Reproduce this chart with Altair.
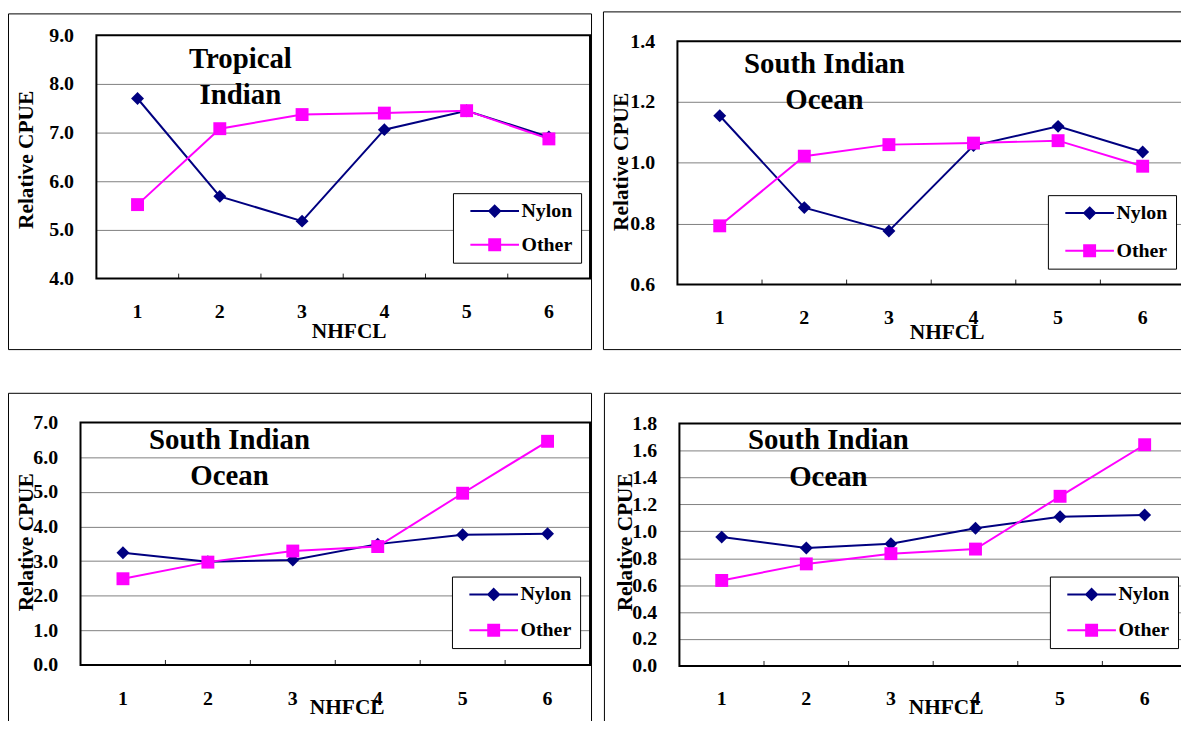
import altair as alt
import pandas as pd

SERIF = "Liberation Serif"
NAVY = "#000080"
MAGENTA = "#FF00FF"

categories = [1, 2, 3, 4, 5, 6]
series_names = ["Nylon", "Other"]
series_colors = [NAVY, MAGENTA]
marker_shapes = ["diamond", "square"]
legend_shapes = ["M-4.45,0H4.45M0,-1L1,0L0,1L-1,0Z", "M-4.45,0H4.45M-1,-1H1V1H-1Z"]

# Panel 1: Tropical Indian
p1_nylon = [7.70, 5.69, 5.18, 7.06, 7.45, 6.91]
p1_other = [5.52, 7.08, 7.37, 7.40, 7.45, 6.87]
p1_yticks = [4.0, 5.0, 6.0, 7.0, 8.0, 9.0]
# Panel 2: South Indian Ocean
p2_nylon = [1.155, 0.853, 0.776, 1.057, 1.120, 1.036]
p2_other = [0.793, 1.022, 1.060, 1.065, 1.073, 0.989]
p2_yticks = [0.6, 0.8, 1.0, 1.2, 1.4]
# Panel 3: South Indian Ocean
p3_nylon = [3.24, 2.98, 3.03, 3.49, 3.76, 3.79]
p3_other = [2.49, 2.97, 3.29, 3.42, 4.96, 6.46]
p3_yticks = [0.0, 1.0, 2.0, 3.0, 4.0, 5.0, 6.0, 7.0]
# Panel 4: South Indian Ocean
p4_nylon = [0.957, 0.876, 0.907, 1.023, 1.108, 1.121]
p4_other = [0.635, 0.758, 0.834, 0.868, 1.260, 1.643]
p4_yticks = [0.0, 0.2, 0.4, 0.6, 0.8, 1.0, 1.2, 1.4, 1.6, 1.8]

one_row = pd.DataFrame({"k": [0]})
legend_df = pd.DataFrame({"series": series_names})
boundary_df = pd.DataFrame({"NHFCL": categories[1:]})


def box(x1, x2, y1, y2, width):
    return alt.Chart(one_row).mark_rect(filled=False, color="black", strokeWidth=width).encode(
        x=alt.value(x1), x2=alt.value(x2), y=alt.value(y1), y2=alt.value(y2))


def make_panel(nylon, other, yticks, W, H, dx, dy, title, tx, ty, lh,
               legx, legy, rowpad, ytx, yty, lab_pad, xtx, xty, border):
    df = pd.DataFrame({
        "NHFCL": categories * 2,
        "value": nylon + other,
        "series": ["Nylon"] * 6 + ["Other"] * 6,
    })
    xscale = alt.Scale(type="band", paddingInner=0, paddingOuter=0, range=[dx, dx + W])
    x_axis = alt.Axis(title="NHFCL", labelAngle=0, domain=False, grid=False,
                      ticks=False, tickSize=0, labelPadding=lab_pad,
                      labelBaseline="alphabetic", titleX=dx + xtx, titleY=xty,
                      titleBaseline="alphabetic")
    x_enc = alt.X("NHFCL:O", scale=xscale, axis=x_axis)
    y_axis = dict(values=yticks, format=".1f", title="Relative CPUE",
                  domain=False, ticks=False, tickSize=0, labelPadding=23,
                  gridColor="#808080", gridWidth=1,
                  gridOpacity={"condition": {"test": "datum.index == 0 || datum.index == 1",
                                             "value": 0}, "value": 1},
                  labelFlush=False, labelOverlap=False,
                  titleX=ytx, titleY=dy + yty, titleBaseline="alphabetic",
                  titleAngle=270)
    if dx:
        y_axis["offset"] = -dx
    y_enc = alt.Y(
        "value:Q",
        scale=alt.Scale(domain=[yticks[0], yticks[-1]], nice=False, zero=False,
                        range=[dy + H, dy]),
        axis=alt.Axis(**y_axis),
    )
    color = alt.Color("series:N",
                      scale=alt.Scale(domain=series_names, range=series_colors),
                      legend=None)
    base = alt.Chart(df)
    outer = box(dx + border[0], dx + border[1], dy + border[2], dy + border[3], 1)
    frame = box(dx, dx + W, dy, dy + H, 2)
    ticks = alt.Chart(boundary_df).mark_rule(color="#222222", strokeWidth=1).encode(
        x=alt.X("NHFCL:O", bandPosition=0, scale=xscale, axis=x_axis),
        y=alt.value(dy + H - 5), y2=alt.value(dy + H))
    lines = base.mark_line(strokeWidth=2).encode(x=x_enc, y=y_enc, color=color)
    points = base.mark_point(filled=True, size=169, opacity=1).encode(
        x=x_enc, y=y_enc, color=color,
        shape=alt.Shape("series:N",
                        scale=alt.Scale(domain=series_names, range=marker_shapes),
                        legend=None))
    leg = alt.Legend(orient="none", legendX=dx + legx, legendY=dy + legy, title=None,
                     padding=8, strokeColor="black", fillColor="white",
                     symbolSize=121, symbolStrokeWidth=2, symbolOpacity=1,
                     symbolOffset=24, labelOffset=17, rowPadding=rowpad,
                     labelFont=SERIF, labelFontSize=20, labelFontWeight="bold",
                     labelColor="black", labelExpr="datum.label + '  '")
    legend_layer = alt.Chart(legend_df).mark_point(filled=True, opacity=0).encode(
        fill=alt.Fill("series:N", scale=alt.Scale(domain=series_names, range=series_colors), legend=leg),
        stroke=alt.Stroke("series:N", scale=alt.Scale(domain=series_names, range=series_colors), legend=leg),
        shape=alt.Shape("series:N", scale=alt.Scale(domain=series_names, range=legend_shapes), legend=leg),
    )
    text = alt.Chart(one_row).mark_text(
        font=SERIF, fontSize=29, fontWeight="bold", align="center",
        baseline="alphabetic", color="black", lineBreak="\n", lineHeight=lh,
    ).encode(text=alt.value(title), x=alt.value(dx + tx), y=alt.value(dy + ty))
    layers = [outer, ticks, lines, points, frame, legend_layer, text]
    return alt.layer(*layers).resolve_scale(
        fill="independent", stroke="independent", shape="independent"
    ).properties(width=dx + W, height=dy + H, view=alt.ViewBackground(strokeWidth=0))


# plot origins on the page: P1 (97,33)  P2 (682,39)  P3 (81,423)  P4 (684,424)
p1 = make_panel(p1_nylon, p1_other, p1_yticks, 497, 245, 16, 0, "Tropical\nIndian", 145, 33, 36,
                359, 159, 14, -64, 125, 39, 254, 59, (-88.5, 498.5, -21.5, 316.5))
p2 = make_panel(p2_nylon, p2_other, p2_yticks, 511, 245, 0, 6, "South Indian\nOcean", 148, 32, 36,
                373, 155, 18, -50, 121, 39, 271, 54, (-74.5, 600, -29.5, 310.5))
p3 = make_panel(p3_nylon, p3_other, p3_yticks, 513, 244, 0, 0, "South Indian\nOcean", 150, 27, 36,
                374, 155, 16, -48, 120, 40, 268, 49, (-72.5, 514.5, -29.5, 340))
p4 = make_panel(p4_nylon, p4_other, p4_yticks, 511, 244, 2, 1, "South Indian\nOcean", 150, 26, 37,
                373, 154, 16, -48, 119, 39, 268, 48, (-75.5, 600, -30.5, 340))

chart = alt.concat(
    p1, p2, p3, p4, columns=2, bounds="flush",
    spacing={"row": 139, "column": 88},
).properties(
    autosize=alt.AutoSizeParams(type="none"),
    padding={"left": 73, "top": 25, "right": 1108, "bottom": 688},
    background="white",
).configure_view(
    strokeWidth=0
).configure_axis(
    labelFont=SERIF, labelFontSize=20, labelFontWeight="bold", labelColor="black",
    titleFont=SERIF, titleFontSize=21.5, titleFontWeight="bold", titleColor="black",
)

chart.save("out.html", embed_options={"renderer": "svg", "actions": False})
